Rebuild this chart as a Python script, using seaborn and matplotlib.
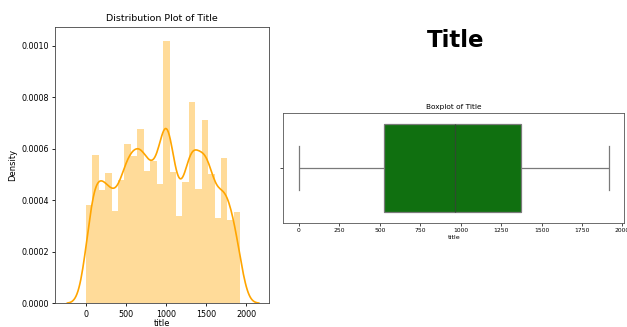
import numpy as np
import pandas as pd
import matplotlib.pyplot as plt
import seaborn as sns

# --- Data ---
# density of each of the 24 histogram bins (0 .. ~1925)
bin_density = [0.000380, 0.000575, 0.000440, 0.000505, 0.000360, 0.000480,
               0.000620, 0.000570, 0.000675, 0.000515, 0.000553, 0.000463,
               0.001020, 0.000510, 0.000340, 0.000470, 0.000780, 0.000445,
               0.000713, 0.000503, 0.000333, 0.000565, 0.000323, 0.000353]
title_min, title_max = 0, 1925

# five-number summary of "title" for the boxplot
box_values = [0, 527, 968, 1374, 1917]

bin_edges = np.linspace(title_min, title_max, len(bin_density) + 1)
hist_df = pd.DataFrame({
    "title": (bin_edges[:-1] + bin_edges[1:]) / 2,
    "density": bin_density,
})

# --- Figure ---
fig = plt.figure(figsize=(6.27, 3.27), dpi=100)

# Distribution plot
ax1 = fig.add_axes([0.0877, 0.0725, 0.341, 0.846])
sns.histplot(data=hist_df, x="title", weights="density", bins=list(bin_edges),
             color='orange', alpha=0.4, linewidth=0, ax=ax1)
sns.kdeplot(data=hist_df, x="title", weights="density", bw_adjust=0.3,
            color='orange', linewidth=1.2, ax=ax1)
ax1.set_xlim(-385, 2280)
ax1.set_ylim(0, 0.001074)
yt = [0, 0.0002, 0.0004, 0.0006, 0.0008, 0.0010]
ax1.set_yticks(yt)
ax1.set_yticklabels([f"{v:.4f}" for v in yt])
ax1.set_title("Distribution Plot of Title", fontsize=6.8, pad=4)
ax1.set_xlabel("title", fontsize=6, labelpad=0)
ax1.set_ylabel("Density", fontsize=6, labelpad=3)
ax1.tick_params(labelsize=5.8, length=2.5, width=0.6, pad=2)
for s in ax1.spines.values():
    s.set_linewidth(0.6)
    s.set_color('#444444')

# Big title on the right
fig.text(0.727, 0.875, "Title", fontsize=16.5, fontweight='bold',
         ha='center', va='center')

# Boxplot
ax2 = fig.add_axes([0.452, 0.317, 0.544, 0.338])
sns.boxplot(x=box_values, color='green', linewidth=0.9, linecolor='#7a7a7a',
            medianprops={'color': '#2f4a2f'}, ax=ax2)
ax2.set_title("Boxplot of Title", fontsize=5.3, pad=3)
ax2.set_xlabel("title", fontsize=4.6, labelpad=1)
ax2.set_xticks([0, 250, 500, 750, 1000, 1250, 1500, 1750, 2000])
ax2.tick_params(labelsize=4.3, length=2, width=0.5, pad=1.5)
for s in ax2.spines.values():
    s.set_linewidth(0.6)
    s.set_color('#555555')

fig.savefig("out.png", dpi=100)
